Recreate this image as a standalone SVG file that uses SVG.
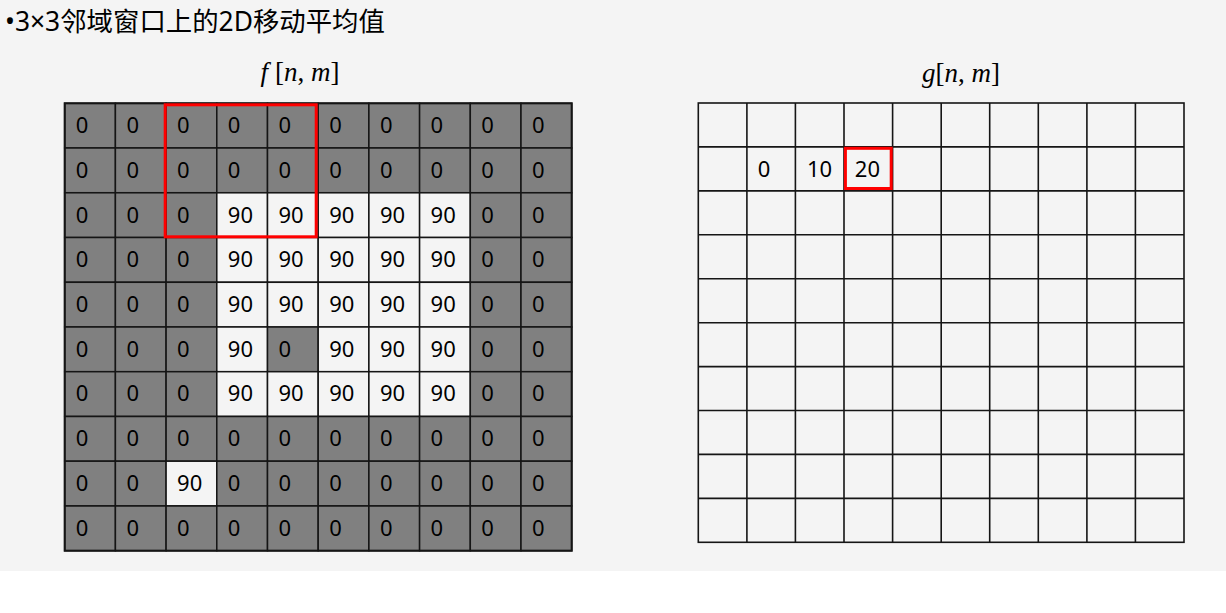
<svg xmlns="http://www.w3.org/2000/svg" width="1226" height="613" viewBox="0 0 1226 613">
<style>
.d{fill:#808080;stroke:#151515;stroke-width:1.5}
.w{fill:#f4f4f4;stroke:#151515;stroke-width:1.5}
.t{font-family:"Noto Sans","Open Sans",sans-serif;font-size:22px;fill:#000}
.gl{stroke:#151515;stroke-width:1.6;fill:none}
.red{fill:none;stroke:#ff0000;stroke-width:3}
.math{font-family:"Liberation Serif","DejaVu Serif",serif;font-size:27px;fill:#000}
</style>
<rect x="0" y="0" width="1226" height="571" fill="#f4f4f4"/>
<rect x="0" y="571" width="1226" height="42" fill="#ffffff"/>
<g id="title"><text x="5" y="31" style="font-family:'Noto Sans','Noto Sans CJK SC',sans-serif;font-size:26.4px;fill:#000">•3×3邻域窗口上的2D移动平均值</text></g>
<g id="label-f"><text class="math" x="300" y="81" text-anchor="middle"><tspan font-style="italic">f</tspan> [<tspan font-style="italic">n</tspan>, <tspan font-style="italic">m</tspan>]</text></g>
<g id="label-g"><text class="math" x="961" y="82" text-anchor="middle"><tspan font-style="italic">g</tspan>[<tspan font-style="italic">n</tspan>, <tspan font-style="italic">m</tspan>]</text></g>
<g id="grid-f" class="t">
<g id="f0-0" transform="translate(64.7,103.3)"><rect class="d" width="50.7" height="44.7"/><text x="11" y="29.8">0</text></g>
<g id="f0-1" transform="translate(115.4,103.3)"><rect class="d" width="50.7" height="44.7"/><text x="11" y="29.8">0</text></g>
<g id="f0-2" transform="translate(166.1,103.3)"><rect class="d" width="50.7" height="44.7"/><text x="11" y="29.8">0</text></g>
<g id="f0-3" transform="translate(216.8,103.3)"><rect class="d" width="50.7" height="44.7"/><text x="11" y="29.8">0</text></g>
<g id="f0-4" transform="translate(267.5,103.3)"><rect class="d" width="50.7" height="44.7"/><text x="11" y="29.8">0</text></g>
<g id="f0-5" transform="translate(318.2,103.3)"><rect class="d" width="50.7" height="44.7"/><text x="11" y="29.8">0</text></g>
<g id="f0-6" transform="translate(368.9,103.3)"><rect class="d" width="50.7" height="44.7"/><text x="11" y="29.8">0</text></g>
<g id="f0-7" transform="translate(419.6,103.3)"><rect class="d" width="50.7" height="44.7"/><text x="11" y="29.8">0</text></g>
<g id="f0-8" transform="translate(470.3,103.3)"><rect class="d" width="50.7" height="44.7"/><text x="11" y="29.8">0</text></g>
<g id="f0-9" transform="translate(521.0,103.3)"><rect class="d" width="50.7" height="44.7"/><text x="11" y="29.8">0</text></g>
<g id="f1-0" transform="translate(64.7,148.0)"><rect class="d" width="50.7" height="44.7"/><text x="11" y="29.8">0</text></g>
<g id="f1-1" transform="translate(115.4,148.0)"><rect class="d" width="50.7" height="44.7"/><text x="11" y="29.8">0</text></g>
<g id="f1-2" transform="translate(166.1,148.0)"><rect class="d" width="50.7" height="44.7"/><text x="11" y="29.8">0</text></g>
<g id="f1-3" transform="translate(216.8,148.0)"><rect class="d" width="50.7" height="44.7"/><text x="11" y="29.8">0</text></g>
<g id="f1-4" transform="translate(267.5,148.0)"><rect class="d" width="50.7" height="44.7"/><text x="11" y="29.8">0</text></g>
<g id="f1-5" transform="translate(318.2,148.0)"><rect class="d" width="50.7" height="44.7"/><text x="11" y="29.8">0</text></g>
<g id="f1-6" transform="translate(368.9,148.0)"><rect class="d" width="50.7" height="44.7"/><text x="11" y="29.8">0</text></g>
<g id="f1-7" transform="translate(419.6,148.0)"><rect class="d" width="50.7" height="44.7"/><text x="11" y="29.8">0</text></g>
<g id="f1-8" transform="translate(470.3,148.0)"><rect class="d" width="50.7" height="44.7"/><text x="11" y="29.8">0</text></g>
<g id="f1-9" transform="translate(521.0,148.0)"><rect class="d" width="50.7" height="44.7"/><text x="11" y="29.8">0</text></g>
<g id="f2-0" transform="translate(64.7,192.8)"><rect class="d" width="50.7" height="44.7"/><text x="11" y="29.8">0</text></g>
<g id="f2-1" transform="translate(115.4,192.8)"><rect class="d" width="50.7" height="44.7"/><text x="11" y="29.8">0</text></g>
<g id="f2-2" transform="translate(166.1,192.8)"><rect class="d" width="50.7" height="44.7"/><text x="11" y="29.8">0</text></g>
<g id="f2-3" transform="translate(216.8,192.8)"><rect class="w" width="50.7" height="44.7"/><text x="11" y="29.8">90</text></g>
<g id="f2-4" transform="translate(267.5,192.8)"><rect class="w" width="50.7" height="44.7"/><text x="11" y="29.8">90</text></g>
<g id="f2-5" transform="translate(318.2,192.8)"><rect class="w" width="50.7" height="44.7"/><text x="11" y="29.8">90</text></g>
<g id="f2-6" transform="translate(368.9,192.8)"><rect class="w" width="50.7" height="44.7"/><text x="11" y="29.8">90</text></g>
<g id="f2-7" transform="translate(419.6,192.8)"><rect class="w" width="50.7" height="44.7"/><text x="11" y="29.8">90</text></g>
<g id="f2-8" transform="translate(470.3,192.8)"><rect class="d" width="50.7" height="44.7"/><text x="11" y="29.8">0</text></g>
<g id="f2-9" transform="translate(521.0,192.8)"><rect class="d" width="50.7" height="44.7"/><text x="11" y="29.8">0</text></g>
<g id="f3-0" transform="translate(64.7,237.5)"><rect class="d" width="50.7" height="44.7"/><text x="11" y="29.8">0</text></g>
<g id="f3-1" transform="translate(115.4,237.5)"><rect class="d" width="50.7" height="44.7"/><text x="11" y="29.8">0</text></g>
<g id="f3-2" transform="translate(166.1,237.5)"><rect class="d" width="50.7" height="44.7"/><text x="11" y="29.8">0</text></g>
<g id="f3-3" transform="translate(216.8,237.5)"><rect class="w" width="50.7" height="44.7"/><text x="11" y="29.8">90</text></g>
<g id="f3-4" transform="translate(267.5,237.5)"><rect class="w" width="50.7" height="44.7"/><text x="11" y="29.8">90</text></g>
<g id="f3-5" transform="translate(318.2,237.5)"><rect class="w" width="50.7" height="44.7"/><text x="11" y="29.8">90</text></g>
<g id="f3-6" transform="translate(368.9,237.5)"><rect class="w" width="50.7" height="44.7"/><text x="11" y="29.8">90</text></g>
<g id="f3-7" transform="translate(419.6,237.5)"><rect class="w" width="50.7" height="44.7"/><text x="11" y="29.8">90</text></g>
<g id="f3-8" transform="translate(470.3,237.5)"><rect class="d" width="50.7" height="44.7"/><text x="11" y="29.8">0</text></g>
<g id="f3-9" transform="translate(521.0,237.5)"><rect class="d" width="50.7" height="44.7"/><text x="11" y="29.8">0</text></g>
<g id="f4-0" transform="translate(64.7,282.3)"><rect class="d" width="50.7" height="44.7"/><text x="11" y="29.8">0</text></g>
<g id="f4-1" transform="translate(115.4,282.3)"><rect class="d" width="50.7" height="44.7"/><text x="11" y="29.8">0</text></g>
<g id="f4-2" transform="translate(166.1,282.3)"><rect class="d" width="50.7" height="44.7"/><text x="11" y="29.8">0</text></g>
<g id="f4-3" transform="translate(216.8,282.3)"><rect class="w" width="50.7" height="44.7"/><text x="11" y="29.8">90</text></g>
<g id="f4-4" transform="translate(267.5,282.3)"><rect class="w" width="50.7" height="44.7"/><text x="11" y="29.8">90</text></g>
<g id="f4-5" transform="translate(318.2,282.3)"><rect class="w" width="50.7" height="44.7"/><text x="11" y="29.8">90</text></g>
<g id="f4-6" transform="translate(368.9,282.3)"><rect class="w" width="50.7" height="44.7"/><text x="11" y="29.8">90</text></g>
<g id="f4-7" transform="translate(419.6,282.3)"><rect class="w" width="50.7" height="44.7"/><text x="11" y="29.8">90</text></g>
<g id="f4-8" transform="translate(470.3,282.3)"><rect class="d" width="50.7" height="44.7"/><text x="11" y="29.8">0</text></g>
<g id="f4-9" transform="translate(521.0,282.3)"><rect class="d" width="50.7" height="44.7"/><text x="11" y="29.8">0</text></g>
<g id="f5-0" transform="translate(64.7,327.0)"><rect class="d" width="50.7" height="44.7"/><text x="11" y="29.8">0</text></g>
<g id="f5-1" transform="translate(115.4,327.0)"><rect class="d" width="50.7" height="44.7"/><text x="11" y="29.8">0</text></g>
<g id="f5-2" transform="translate(166.1,327.0)"><rect class="d" width="50.7" height="44.7"/><text x="11" y="29.8">0</text></g>
<g id="f5-3" transform="translate(216.8,327.0)"><rect class="w" width="50.7" height="44.7"/><text x="11" y="29.8">90</text></g>
<g id="f5-4" transform="translate(267.5,327.0)"><rect class="d" width="50.7" height="44.7"/><text x="11" y="29.8">0</text></g>
<g id="f5-5" transform="translate(318.2,327.0)"><rect class="w" width="50.7" height="44.7"/><text x="11" y="29.8">90</text></g>
<g id="f5-6" transform="translate(368.9,327.0)"><rect class="w" width="50.7" height="44.7"/><text x="11" y="29.8">90</text></g>
<g id="f5-7" transform="translate(419.6,327.0)"><rect class="w" width="50.7" height="44.7"/><text x="11" y="29.8">90</text></g>
<g id="f5-8" transform="translate(470.3,327.0)"><rect class="d" width="50.7" height="44.7"/><text x="11" y="29.8">0</text></g>
<g id="f5-9" transform="translate(521.0,327.0)"><rect class="d" width="50.7" height="44.7"/><text x="11" y="29.8">0</text></g>
<g id="f6-0" transform="translate(64.7,371.7)"><rect class="d" width="50.7" height="44.7"/><text x="11" y="29.8">0</text></g>
<g id="f6-1" transform="translate(115.4,371.7)"><rect class="d" width="50.7" height="44.7"/><text x="11" y="29.8">0</text></g>
<g id="f6-2" transform="translate(166.1,371.7)"><rect class="d" width="50.7" height="44.7"/><text x="11" y="29.8">0</text></g>
<g id="f6-3" transform="translate(216.8,371.7)"><rect class="w" width="50.7" height="44.7"/><text x="11" y="29.8">90</text></g>
<g id="f6-4" transform="translate(267.5,371.7)"><rect class="w" width="50.7" height="44.7"/><text x="11" y="29.8">90</text></g>
<g id="f6-5" transform="translate(318.2,371.7)"><rect class="w" width="50.7" height="44.7"/><text x="11" y="29.8">90</text></g>
<g id="f6-6" transform="translate(368.9,371.7)"><rect class="w" width="50.7" height="44.7"/><text x="11" y="29.8">90</text></g>
<g id="f6-7" transform="translate(419.6,371.7)"><rect class="w" width="50.7" height="44.7"/><text x="11" y="29.8">90</text></g>
<g id="f6-8" transform="translate(470.3,371.7)"><rect class="d" width="50.7" height="44.7"/><text x="11" y="29.8">0</text></g>
<g id="f6-9" transform="translate(521.0,371.7)"><rect class="d" width="50.7" height="44.7"/><text x="11" y="29.8">0</text></g>
<g id="f7-0" transform="translate(64.7,416.5)"><rect class="d" width="50.7" height="44.7"/><text x="11" y="29.8">0</text></g>
<g id="f7-1" transform="translate(115.4,416.5)"><rect class="d" width="50.7" height="44.7"/><text x="11" y="29.8">0</text></g>
<g id="f7-2" transform="translate(166.1,416.5)"><rect class="d" width="50.7" height="44.7"/><text x="11" y="29.8">0</text></g>
<g id="f7-3" transform="translate(216.8,416.5)"><rect class="d" width="50.7" height="44.7"/><text x="11" y="29.8">0</text></g>
<g id="f7-4" transform="translate(267.5,416.5)"><rect class="d" width="50.7" height="44.7"/><text x="11" y="29.8">0</text></g>
<g id="f7-5" transform="translate(318.2,416.5)"><rect class="d" width="50.7" height="44.7"/><text x="11" y="29.8">0</text></g>
<g id="f7-6" transform="translate(368.9,416.5)"><rect class="d" width="50.7" height="44.7"/><text x="11" y="29.8">0</text></g>
<g id="f7-7" transform="translate(419.6,416.5)"><rect class="d" width="50.7" height="44.7"/><text x="11" y="29.8">0</text></g>
<g id="f7-8" transform="translate(470.3,416.5)"><rect class="d" width="50.7" height="44.7"/><text x="11" y="29.8">0</text></g>
<g id="f7-9" transform="translate(521.0,416.5)"><rect class="d" width="50.7" height="44.7"/><text x="11" y="29.8">0</text></g>
<g id="f8-0" transform="translate(64.7,461.2)"><rect class="d" width="50.7" height="44.7"/><text x="11" y="29.8">0</text></g>
<g id="f8-1" transform="translate(115.4,461.2)"><rect class="d" width="50.7" height="44.7"/><text x="11" y="29.8">0</text></g>
<g id="f8-2" transform="translate(166.1,461.2)"><rect class="w" width="50.7" height="44.7"/><text x="11" y="29.8">90</text></g>
<g id="f8-3" transform="translate(216.8,461.2)"><rect class="d" width="50.7" height="44.7"/><text x="11" y="29.8">0</text></g>
<g id="f8-4" transform="translate(267.5,461.2)"><rect class="d" width="50.7" height="44.7"/><text x="11" y="29.8">0</text></g>
<g id="f8-5" transform="translate(318.2,461.2)"><rect class="d" width="50.7" height="44.7"/><text x="11" y="29.8">0</text></g>
<g id="f8-6" transform="translate(368.9,461.2)"><rect class="d" width="50.7" height="44.7"/><text x="11" y="29.8">0</text></g>
<g id="f8-7" transform="translate(419.6,461.2)"><rect class="d" width="50.7" height="44.7"/><text x="11" y="29.8">0</text></g>
<g id="f8-8" transform="translate(470.3,461.2)"><rect class="d" width="50.7" height="44.7"/><text x="11" y="29.8">0</text></g>
<g id="f8-9" transform="translate(521.0,461.2)"><rect class="d" width="50.7" height="44.7"/><text x="11" y="29.8">0</text></g>
<g id="f9-0" transform="translate(64.7,506.0)"><rect class="d" width="50.7" height="44.7"/><text x="11" y="29.8">0</text></g>
<g id="f9-1" transform="translate(115.4,506.0)"><rect class="d" width="50.7" height="44.7"/><text x="11" y="29.8">0</text></g>
<g id="f9-2" transform="translate(166.1,506.0)"><rect class="d" width="50.7" height="44.7"/><text x="11" y="29.8">0</text></g>
<g id="f9-3" transform="translate(216.8,506.0)"><rect class="d" width="50.7" height="44.7"/><text x="11" y="29.8">0</text></g>
<g id="f9-4" transform="translate(267.5,506.0)"><rect class="d" width="50.7" height="44.7"/><text x="11" y="29.8">0</text></g>
<g id="f9-5" transform="translate(318.2,506.0)"><rect class="d" width="50.7" height="44.7"/><text x="11" y="29.8">0</text></g>
<g id="f9-6" transform="translate(368.9,506.0)"><rect class="d" width="50.7" height="44.7"/><text x="11" y="29.8">0</text></g>
<g id="f9-7" transform="translate(419.6,506.0)"><rect class="d" width="50.7" height="44.7"/><text x="11" y="29.8">0</text></g>
<g id="f9-8" transform="translate(470.3,506.0)"><rect class="d" width="50.7" height="44.7"/><text x="11" y="29.8">0</text></g>
<g id="f9-9" transform="translate(521.0,506.0)"><rect class="d" width="50.7" height="44.7"/><text x="11" y="29.8">0</text></g>
<rect x="64.7" y="103.3" width="507" height="447.4" fill="none" stroke="#151515" stroke-width="2"/>
</g>
<g id="grid-g">
<rect class="gl" x="698.3" y="103" width="485.7" height="439.3"/>
<path class="gl" d="M746.9 103V542.3M795.4 103V542.3M844.0 103V542.3M892.6 103V542.3M941.2 103V542.3M989.7 103V542.3M1038.3 103V542.3M1086.9 103V542.3M1135.4 103V542.3M698.3 146.9H1184M698.3 190.9H1184M698.3 234.8H1184M698.3 278.7H1184M698.3 322.7H1184M698.3 366.6H1184M698.3 410.5H1184M698.3 454.4H1184M698.3 498.4H1184"/>
</g>
<g id="g1-1"><text class="t" x="757.8" y="176.9">0</text></g>
<g id="g1-2"><text class="t" x="806.9" y="176.9">10</text></g>
<g id="g1-3"><text class="t" x="854.8" y="176.9">20</text></g>
<g id="window-f"><rect class="red" x="165.2" y="104.8" width="151" height="132"/></g>
<g id="window-g"><rect class="red" x="845.4" y="148.3" width="45.8" height="40.2" stroke-width="2.8"/></g>
<g id="connectors"/>
</svg>
